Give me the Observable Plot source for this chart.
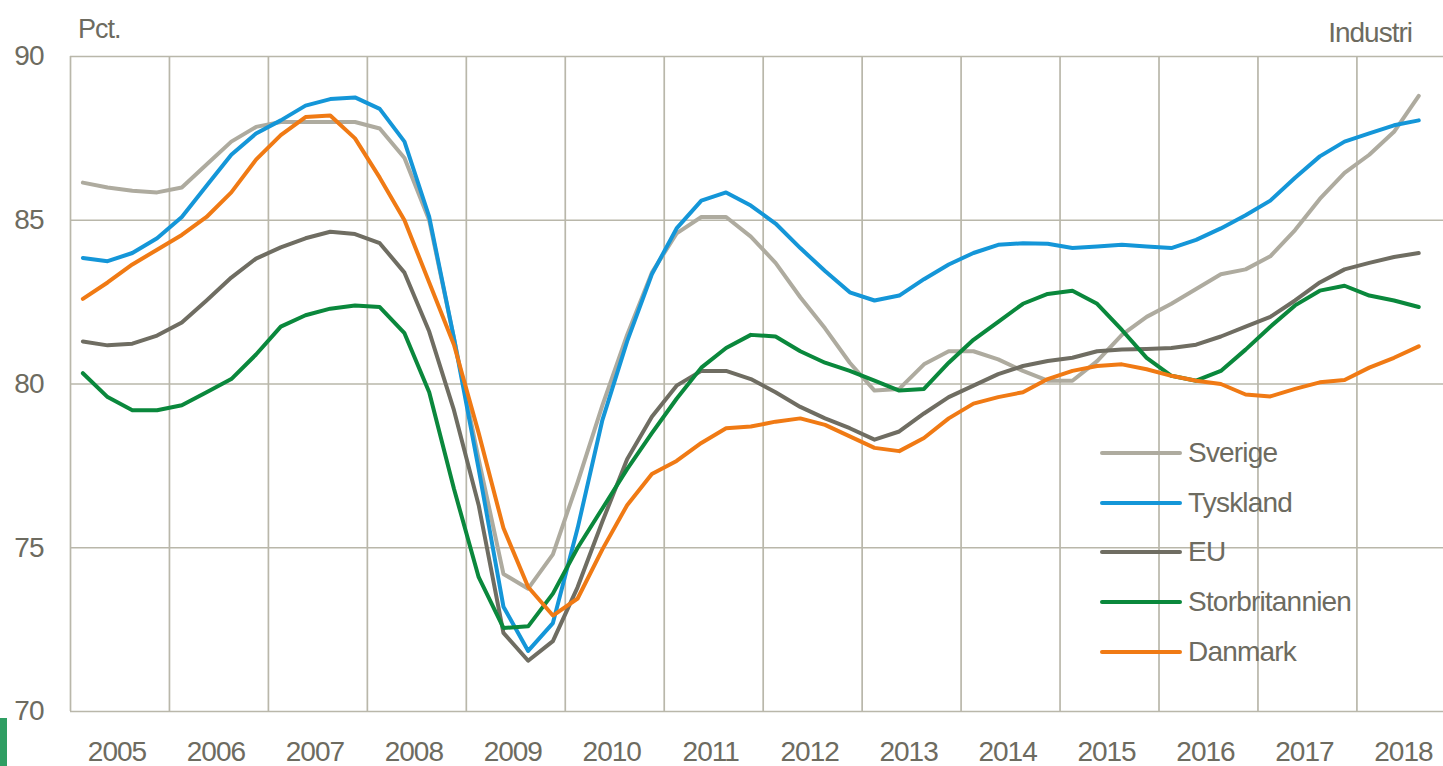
<!DOCTYPE html>
<html><head><meta charset="utf-8">
<script src="https://cdn.jsdelivr.net/npm/d3@7"></script>
<script src="https://cdn.jsdelivr.net/npm/@observablehq/plot@0.6"></script>
<style>
html,body{margin:0;padding:0;background:#fff;overflow:hidden;}
#wrap{position:relative;width:1443px;height:766px;font-family:"Liberation Sans",Arial,sans-serif;color:#6d6b60;}
#wrap svg{position:absolute;left:0;top:0;}
#wrap svg text{letter-spacing:-1px;}
.lbl{position:absolute;font-size:27px;line-height:1;letter-spacing:-1px;white-space:nowrap;}
#legend{position:absolute;left:1100px;top:428px;}
.row{display:flex;align-items:center;height:49.75px;}
.sw{width:82px;height:4px;border-radius:2px;margin-right:6px;}
.row span{font-size:28px;line-height:1;letter-spacing:-0.8px;}
#bar{position:absolute;left:0;top:718px;width:7px;height:48px;background:#2f9e63;}
</style></head><body><div id="wrap"></div>
<script>
const periods = [
"2005K1","2005K2","2005K3","2005K4","2006K1","2006K2","2006K3","2006K4",
"2007K1","2007K2","2007K3","2007K4","2008K1","2008K2","2008K3","2008K4",
"2009K1","2009K2","2009K3","2009K4","2010K1","2010K2","2010K3","2010K4",
"2011K1","2011K2","2011K3","2011K4","2012K1","2012K2","2012K3","2012K4",
"2013K1","2013K2","2013K3","2013K4","2014K1","2014K2","2014K3","2014K4",
"2015K1","2015K2","2015K3","2015K4","2016K1","2016K2","2016K3","2016K4",
"2017K1","2017K2","2017K3","2017K4","2018K1","2018K2","2018K3"];

const sverige = [86.15,86.0,85.9,85.85,86.0,86.7,87.4,87.85,88.0,88.0,
 88.0,88.0,87.8,86.9,85.0,81.4,77.7,74.2,73.75,74.8,
 77.0,79.35,81.5,83.4,84.6,85.1,85.1,84.5,83.7,82.65,
 81.7,80.65,79.8,79.85,80.6,81.0,81.0,80.75,80.4,80.1,
 80.1,80.7,81.5,82.05,82.45,82.9,83.35,83.5,83.9,84.7,
 85.65,86.45,87.0,87.7,88.8];
const tyskland = [83.85,83.75,84.0,84.45,85.1,86.05,87.0,87.65,88.05,88.5,
 88.7,88.75,88.4,87.4,85.1,81.4,77.4,73.2,71.85,72.7,
 75.6,78.9,81.3,83.35,84.75,85.6,85.85,85.45,84.9,84.15,
 83.45,82.8,82.55,82.7,83.2,83.65,84.0,84.25,84.3,84.28,
 84.15,84.2,84.25,84.2,84.15,84.4,84.75,85.15,85.6,86.3,
 86.95,87.4,87.65,87.9,88.05];
const eu = [81.3,81.18,81.23,81.48,81.88,82.55,83.25,83.83,84.17,84.45,
 84.65,84.58,84.3,83.4,81.6,79.2,76.3,72.4,71.55,72.15,
 73.8,75.8,77.7,79.0,79.95,80.4,80.4,80.15,79.75,79.3,
 78.95,78.65,78.3,78.55,79.1,79.6,79.95,80.3,80.55,80.7,
 80.8,81.0,81.05,81.07,81.1,81.2,81.45,81.75,82.05,82.55,
 83.1,83.5,83.7,83.88,84.0];
const storbritannien = [80.33,79.6,79.2,79.2,79.35,79.75,80.15,80.9,81.75,82.1,
 82.3,82.4,82.35,81.55,79.75,76.8,74.1,72.55,72.6,73.6,
 75.0,76.2,77.4,78.5,79.55,80.5,81.1,81.5,81.45,81.0,
 80.65,80.4,80.1,79.8,79.85,80.65,81.35,81.9,82.45,82.75,
 82.85,82.45,81.65,80.8,80.25,80.1,80.4,81.05,81.75,82.4,
 82.85,83.0,82.7,82.55,82.35];
const danmark = [82.6,83.1,83.65,84.1,84.55,85.1,85.85,86.85,87.6,88.15,
 88.2,87.5,86.3,85.0,83.1,81.2,78.5,75.6,73.8,72.93,
 73.45,74.95,76.3,77.25,77.65,78.2,78.65,78.7,78.85,78.95,
 78.75,78.4,78.05,77.95,78.35,78.95,79.4,79.6,79.75,80.15,
 80.4,80.55,80.6,80.45,80.25,80.1,80.0,79.68,79.62,79.85,
 80.05,80.12,80.5,80.8,81.15];

const seriesNames = ["Sverige","Tyskland","EU","Storbritannien","Danmark"];
const seriesColors = ["#aeab9f","#1496d8","#6f6d62","#0a883c","#f07a14"];
const seriesValues = [sverige, tyskland, eu, storbritannien, danmark];
const yTicks = [70, 75, 80, 85, 90];
const yearLabels = ["2005","2006","2007","2008","2009","2010","2011","2012","2013","2014","2015","2016","2017","2018"];
const unitLabel = "Pct.";
const sectorLabel = "Industri";

const gridColor = "#b9b7aa";
const toX = p => +p.slice(0, 4) + (+p.slice(5) - 0.5) / 4;
const rows = seriesNames.flatMap((name, s) =>
  seriesValues[s].map((v, i) => ({serie: name, x: toX(periods[i]), v})));
const yearStarts = yearLabels.map(Number);
const yearMids = yearStarts.map(y => y + 0.5);

const chart = Plot.plot({
  width: 1443, height: 766,
  marginLeft: 70, marginRight: 0, marginTop: 56, marginBottom: 55,
  style: {fontFamily: '"Liberation Sans", Arial, sans-serif', color: "#6d6b60", background: "transparent"},
  x: {domain: [2005, 2018.875]},
  y: {domain: [70, 90]},
  color: {domain: seriesNames, range: seriesColors},
  marks: [
    Plot.gridY(yTicks, {stroke: gridColor, strokeOpacity: 1, strokeWidth: 1.7}),
    Plot.gridX(yearStarts, {stroke: gridColor, strokeOpacity: 1, strokeWidth: 1.7}),
    Plot.line(rows, {x: "x", y: "v", z: "serie", stroke: "serie", strokeWidth: 4, strokeLinejoin: "round", strokeLinecap: "round"}),
    Plot.axisY(yTicks, {tickSize: 0, tickPadding: 27, fontSize: 28, tickFormat: d => String(d), label: null}),
    Plot.axisX(yearMids, {tickSize: 0, tickPadding: 30, fontSize: 28, dx: -3, tickFormat: d => String(Math.floor(d)), label: null})
  ]
});

const wrap = document.getElementById("wrap");
wrap.appendChild(chart);

const pct = document.createElement("div");
pct.className = "lbl"; pct.textContent = unitLabel;
pct.style.left = "78px"; pct.style.top = "16px";
wrap.appendChild(pct);

const ind = document.createElement("div");
ind.className = "lbl"; ind.textContent = sectorLabel;
ind.style.right = "31px"; ind.style.top = "19px"; ind.style.fontSize = "28px";
wrap.appendChild(ind);

const leg = document.createElement("div");
leg.id = "legend";
seriesNames.forEach((n, i) => {
  const r = document.createElement("div"); r.className = "row";
  const sw = document.createElement("div"); sw.className = "sw"; sw.style.background = seriesColors[i];
  const t = document.createElement("span"); t.textContent = n;
  r.appendChild(sw); r.appendChild(t); leg.appendChild(r);
});
wrap.appendChild(leg);

const bar = document.createElement("div"); bar.id = "bar"; wrap.appendChild(bar);
</script></body></html>
